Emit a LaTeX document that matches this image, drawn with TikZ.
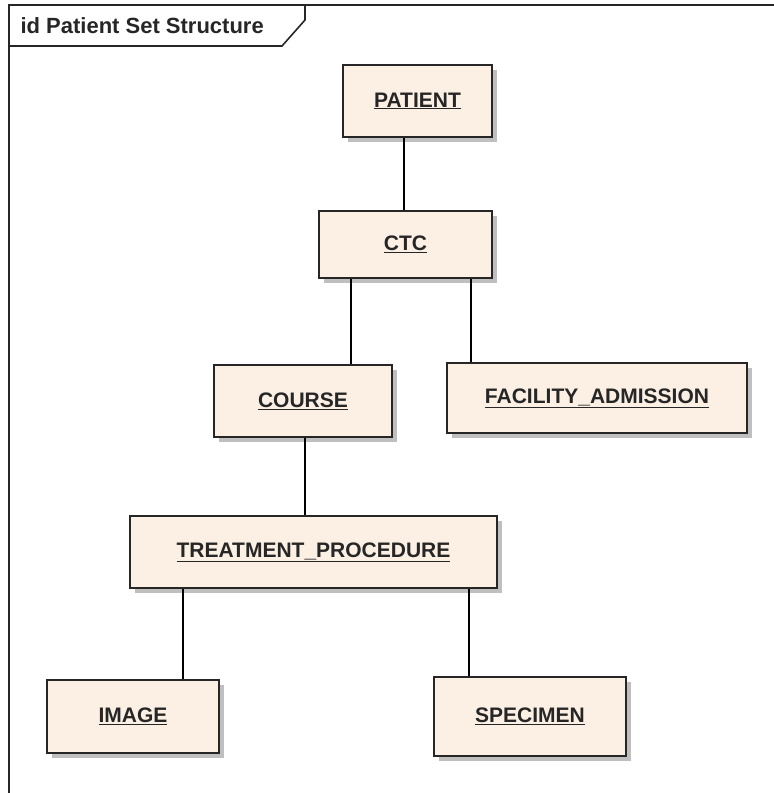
\documentclass[tikz,border=0pt]{standalone}
\usepackage{fontspec}
\setmainfont{Liberation Sans}
\usetikzlibrary{shadows}
\definecolor{entityfill}{HTML}{FBF0E3}
\definecolor{entityline}{HTML}{262626}
\tikzset{
    entity/.style={draw=entityline, line width=1.8pt, fill=entityfill,
        drop shadow={shadow xshift=5pt, shadow yshift=-5pt, fill=black!25, opacity=1},
        font=\fontsize{21}{24}\selectfont\bfseries, text=entityline, inner sep=0pt},
    link/.style={draw=black, line width=1.4pt}
}
\begin{document}
\begin{tikzpicture}[x=1pt, y=-1pt]
    \useasboundingbox (0,0) rectangle (774,793);

    % Rahmen mit Reiter
    \draw[line width=1.6pt, draw=entityline] (9,793) -- (9,5) -- (774,5);
    \draw[line width=1.6pt, draw=entityline] (9,46) -- (282,46) -- (305,20) -- (305,5);
    \node[anchor=west, font=\fontsize{22}{24}\selectfont\bfseries, text=entityline] (title) at (17,26) {id Patient Set Structure};

    % Entitaeten
    \node[entity, minimum width=149pt, minimum height=72pt] (patient) at (417.5,101) {\underline{PATIENT}};
    \node[entity, minimum width=173pt, minimum height=67pt] (ctc) at (405.5,244.5) {\underline{CTC}};
    \node[entity, minimum width=178pt, minimum height=72pt] (course) at (303,401) {\underline{COURSE}};
    \node[entity, minimum width=300pt, minimum height=70pt] (facility) at (597,398) {\underline{FACILITY\_ADMISSION}};
    \node[entity, minimum width=367pt, minimum height=72pt] (treatment) at (313.5,552) {\underline{TREATMENT\_PROCEDURE}};
    \node[entity, minimum width=172pt, minimum height=73pt] (image) at (133,716.5) {\underline{IMAGE}};
    \node[entity, minimum width=192pt, minimum height=79pt] (specimen) at (530,716.5) {\underline{SPECIMEN}};

    % Verbindungen
    \draw[link] (patient.south -| 404,0) -- (ctc.north -| 404,0);
    \draw[link] (ctc.south -| 351,0) -- (course.north -| 351,0);
    \draw[link] (ctc.south -| 471,0) -- (facility.north -| 471,0);
    \draw[link] (course.south -| 305,0) -- (treatment.north -| 305,0);
    \draw[link] (treatment.south -| 183,0) -- (image.north -| 183,0);
    \draw[link] (treatment.south -| 469,0) -- (specimen.north -| 469,0);
\end{tikzpicture}
\end{document}
